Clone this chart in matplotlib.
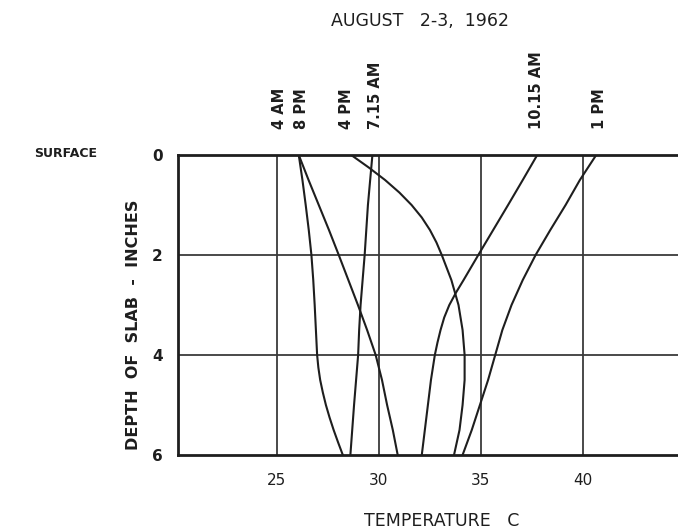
import matplotlib
matplotlib.use("Agg")
import matplotlib.pyplot as plt
import matplotlib.transforms as mtransforms

# depth below the slab surface, inches
depth = [0, 0.5, 1, 1.5, 2, 2.5, 3, 3.5, 4, 4.5, 5, 5.5, 6]
depth_4am = [0, 0.5, 1, 1.5, 2, 2.5, 3, 3.5, 4, 4.25, 4.5, 4.75, 5, 5.25, 5.5, 5.75, 6]
depth_4pm = [0, 0.25, 0.5, 0.75, 1, 1.25, 1.5, 1.75, 2, 2.5, 3, 3.5, 4, 4.5, 5, 5.5, 6]
depth_1015am = [0, 0.5, 1, 1.5, 2, 2.25, 2.5, 2.75, 3, 3.25, 3.5, 3.75, 4, 4.5, 5, 5.5, 6]

# slab temperature (deg C) at each depth
temp_4am = [26.07, 26.25, 26.41, 26.56, 26.69, 26.78, 26.85, 26.91, 26.97,
            27.03, 27.12, 27.25, 27.4, 27.58, 27.78, 28.0, 28.23]
temp_8pm = [26.07, 26.55, 27.05, 27.55, 28.03, 28.5, 28.97, 29.42, 29.84, 30.15, 30.4, 30.68, 30.92]
temp_715am = [29.68, 29.57, 29.46, 29.38, 29.3, 29.2, 29.1, 29.03, 28.98, 28.88, 28.78, 28.69, 28.6]
temp_4pm = [28.64, 29.5, 30.3, 31.0, 31.6, 32.1, 32.5, 32.82, 33.08,
            33.55, 33.9, 34.1, 34.2, 34.2, 34.1, 33.95, 33.68]
temp_1015am = [37.76, 37.05, 36.33, 35.6, 34.87, 34.51, 34.15, 33.78, 33.45,
               33.2, 33.02, 32.87, 32.74, 32.55, 32.4, 32.25, 32.1]
temp_1pm = [40.65, 39.85, 39.15, 38.4, 37.68, 37.05, 36.5, 36.05, 35.7, 35.35, 34.95, 34.55, 34.1]

curves = [(temp_4am, depth_4am), (temp_8pm, depth), (temp_715am, depth),
          (temp_4pm, depth_4pm), (temp_1015am, depth_1015am), (temp_1pm, depth)]

time_labels = ["4 AM", "8 PM", "4 PM", "7.15 AM", "10.15 AM", "1 PM"]
label_x = [25.15, 26.2, 28.4, 29.85, 37.7, 40.8]

x_ticks = [25, 30, 35, 40]
y_ticks = [0, 2, 4, 6]

W, H = 678, 531
ink = "#1e1e1e"

fig = plt.figure(figsize=(W / 100, H / 100), dpi=100)
ax = fig.add_axes([178 / W, 1 - 455 / H, 1 - 178 / W, 300 / H])

for t, d in curves:
    ax.plot(t, d, color=ink, lw=1.5, solid_joinstyle="round")

ax.set_xlim(20.15, 44.66)
ax.set_ylim(6, 0)

for x in x_ticks:
    ax.axvline(x, color="#3a3a3a", lw=1.3, zorder=0)
for y in [2, 4]:
    ax.axhline(y, color="#3a3a3a", lw=1.3, zorder=0)

ax.set_xticks(x_ticks)
ax.set_yticks(y_ticks)
ax.set_xticklabels([str(v) for v in x_ticks], fontsize=11, color=ink)
ax.set_yticklabels([str(v) for v in y_ticks], fontsize=11, color=ink,
                   fontweight="bold")
ax.tick_params(axis="x", length=0, pad=13)
ax.tick_params(axis="y", length=0, pad=11)

for side in ["left", "top", "bottom"]:
    ax.spines[side].set_linewidth(2)
    ax.spines[side].set_color(ink)
ax.spines["right"].set_visible(False)

# time-of-day labels standing above the curves
trans = mtransforms.blended_transform_factory(ax.transData, fig.transFigure)
for lab, x in zip(time_labels, label_x):
    ax.text(x, 1 - 129 / H, lab, transform=trans, rotation=90,
            ha="center", va="bottom", fontsize=10.5, fontweight="bold",
            color=ink, clip_on=False)

fig.text(420 / W, 1 - 21 / H, "AUGUST   2-3,  1962", ha="center", va="center",
         fontsize=12.5, color=ink)
fig.text(97 / W, 1 - 154 / H, "SURFACE", ha="right", va="center",
         fontsize=9, fontweight="bold", color=ink)
fig.text(133 / W, 1 - 325 / H, "DEPTH  OF  SLAB  -  INCHES", rotation=90,
         ha="center", va="center", fontsize=11.5, fontweight="bold", color=ink)
fig.text(442 / W, 1 - 521 / H, "TEMPERATURE   C", ha="center", va="center",
         fontsize=12.5, color=ink)

fig.savefig("out.png", dpi=100)
